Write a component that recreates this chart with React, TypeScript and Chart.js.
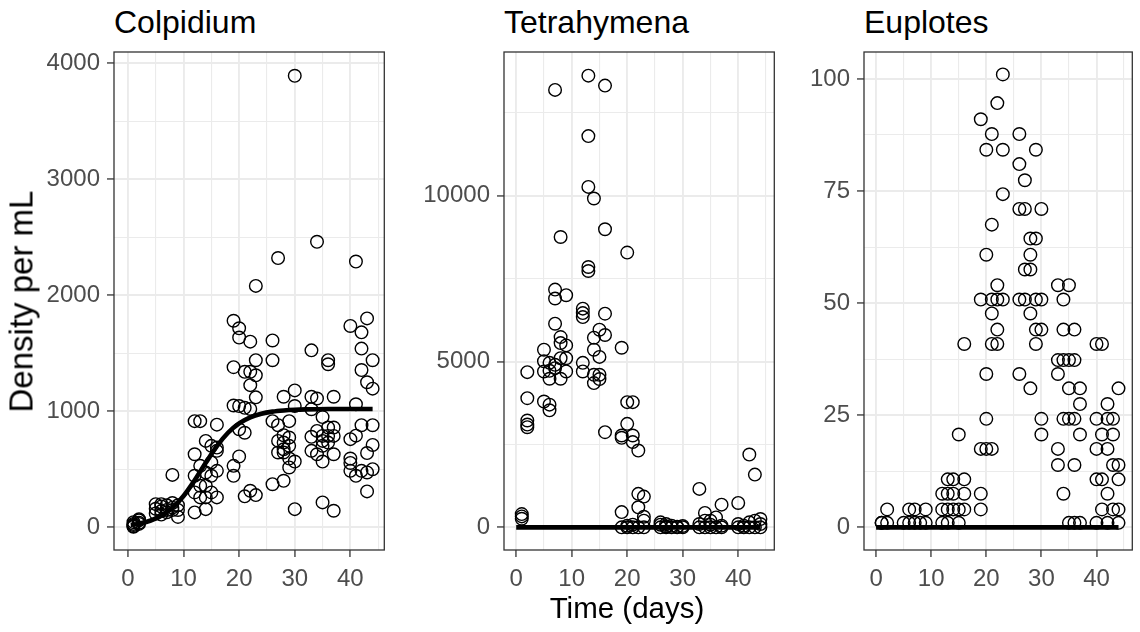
import React, { useEffect, useRef } from "react";
import { Chart, registerables } from "chart.js";

Chart.register(...registerables);

const FONT = '"Liberation Sans", Arial, Helvetica, sans-serif';

// ---------- data ----------
const colpSampleDays = [1, 2, 5, 6, 7, 8, 9, 12, 13, 14, 15, 16, 19, 20, 21, 22, 23, 26, 27, 28, 29, 30, 33, 34, 35, 36, 37, 40, 41, 42, 43, 44];
const colpDensity = [
  [10, 20, 30, 5, 45],
  [40, 60, 30, 70],
  [200, 160, 120],
  [200, 180, 140, 110],
  [190, 150, 130],
  [452, 210, 170, 150],
  [190, 150, 90],
  [915, 630, 444, 301, 129],
  [915, 530, 358, 258],
  [745, 473, 358, 258, 157],
  [702, 559, 444, 301],
  [885, 687, 659, 487, 258],
  [1780, 1380, 1050, 530, 444],
  [1715, 1635, 1045, 845, 611],
  [1340, 1030, 815, 267],
  [1600, 1340, 1225, 1020, 315],
  [2080, 1440, 1310, 1120, 278],
  [1610, 1440, 915, 372],
  [2320, 880, 745, 645],
  [1125, 794, 730, 673, 645, 401],
  [915, 774, 702, 593, 516],
  [3890, 1180, 1045, 567, 157],
  [1525, 1125, 1018, 780, 659],
  [2460, 1110, 831, 630],
  [950, 788, 745, 702, 567, 215],
  [1440, 1405, 860, 788, 730],
  [1125, 860, 788, 630, 143],
  [1735, 760, 593, 555, 487],
  [2290, 1060, 790, 444],
  [1680, 1540, 1355, 880, 487],
  [1800, 1250, 640, 473, 310],
  [1440, 1195, 880, 710, 501],
];
const colpFitDays = [0.5, 1, 2, 4, 6, 8, 10, 12, 14, 16, 18, 20, 22, 24, 26, 28, 30, 32, 36, 40, 44];
const colpFitDensity = [22, 24, 32, 57, 100, 169, 270, 405, 556, 700, 815, 896, 948, 979, 997, 1007, 1013, 1016, 1019, 1020, 1020];

const tetraSampleDays = [1, 2, 5, 6, 7, 8, 9, 12, 13, 14, 15, 16, 19, 20, 21, 22, 23, 26, 27, 28, 29, 30, 33, 34, 35, 36, 37, 40, 41, 42, 43, 44];
const tetraDensity = [
  [400, 330, 260],
  [4680, 3895, 3222, 3100, 3020],
  [5356, 5010, 4700, 3795],
  [4960, 4720, 4480, 3700, 3530],
  [13190, 7168, 6900, 6141, 4900, 4800],
  [8755, 5737, 5556, 5100, 4480],
  [7000, 5486, 5100, 4700],
  [6595, 6460, 6340, 4960, 4700],
  [13620, 11797, 10266, 7850, 7730],
  [9915, 5718, 5356, 4600, 4350],
  [5960, 5140, 4600, 4470],
  [13320, 8988, 6443, 5800, 2870],
  [5416, 2770, 2700, 460, 0],
  [8285, 3775, 3120, 50, 0],
  [3775, 2770, 2570, 80, 0],
  [2315, 1010, 605, 0],
  [927, 320, 200, 0],
  [150, 80, 0],
  [100, 30, 0],
  [50, 0],
  [20, 0],
  [40, 0],
  [1160, 100, 0],
  [435, 200, 0],
  [200, 80, 0],
  [300, 0],
  [685, 50, 0],
  [735, 100, 0],
  [50, 0],
  [2195, 150, 0],
  [1590, 200, 0],
  [250, 100, 0],
];
const tetraFitDays = [0, 44];
const tetraFitDensity = [0, 0];

const euploSampleDays = [1, 2, 5, 6, 7, 8, 9, 12, 13, 14, 15, 16, 19, 20, 21, 22, 23, 26, 27, 28, 29, 30, 33, 34, 35, 36, 37, 40, 41, 42, 43, 44];
const euploDensity = [
  [1, 1],
  [1, 4],
  [1],
  [1, 4],
  [1, 4],
  [1],
  [1, 4],
  [7.5, 4, 1],
  [10.7, 7.5, 4, 1],
  [10.7, 7.5, 4],
  [20.7, 4, 1],
  [40.9, 10.7, 7.5, 4],
  [91, 50.8, 17.5, 7.5, 4],
  [84.2, 60.8, 34.2, 24.2, 17.5],
  [87.7, 67.5, 50.8, 47.7, 40.9, 17.5],
  [94.6, 54, 50.8, 44.1, 40.9],
  [101, 84.2, 74.3, 50.8],
  [87.7, 81, 71, 50.8, 34.2],
  [77.4, 71, 57.5, 50.8],
  [64.4, 60.8, 57.5, 47.7, 31],
  [84.2, 64.4, 50.8, 44.1, 40.9],
  [71, 50.8, 44.1, 24.2, 20.7],
  [54, 37.3, 34.2, 17.5, 13.9],
  [50.8, 44.1, 37.3, 24.2, 7.5],
  [54, 37.3, 31, 24.2, 1],
  [44.1, 37.3, 24.2, 13.9, 1],
  [31, 27.5, 20.7, 1],
  [40.9, 24.2, 17.5, 10.7, 1],
  [40.9, 20.7, 10.7, 4],
  [27.5, 24.2, 17.5, 7.5, 1],
  [24.2, 20.7, 13.9, 4],
  [31, 13.9, 10.7, 4, 1],
];
const euploFitDays = [0, 44];
const euploFitDensity = [0, 0];

// ticks
const xMajorTicks = [0, 10, 20, 30, 40];
const xGridTicks = [0, 5, 10, 15, 20, 25, 30, 35, 40, 45];
const colpMajorTicks = [0, 1000, 2000, 3000, 4000];
const colpGridTicks = [0, 500, 1000, 1500, 2000, 2500, 3000, 3500, 4000];
const tetraMajorTicks = [0, 5000, 10000];
const tetraGridTicks = [0, 2500, 5000, 7500, 10000, 12500];
const euploMajorTicks = [0, 25, 50, 75, 100];
const euploGridTicks = [0, 12.5, 25, 37.5, 50, 62.5, 75, 87.5, 100];

const titles = ["Colpidium", "Tetrahymena", "Euplotes"];
const yAxisTitle = "Density per mL";
const xAxisTitle = "Time (days)";

// ---------- layout ----------
type PanelCfg = {
  title: string;
  left: number;
  width: number;
  yAxisWidth: number;
  padRight: number;
  xMin: number;
  xMax: number;
  yMin: number;
  yMax: number;
  days: number[];
  density: number[][];
  fitDays: number[];
  fitDensity: number[];
  yMajor: number[];
  yGrid: number[];
};

const CANVAS_TOP = 40;
const CANVAS_H = 592;

const panels: PanelCfg[] = [
  {
    title: titles[0], left: 0, width: 392, yAxisWidth: 114, padRight: 2,
    xMin: -2.5, xMax: 46.1, yMin: -195, yMax: 4095,
    days: colpSampleDays, density: colpDensity, fitDays: colpFitDays, fitDensity: colpFitDensity,
    yMajor: colpMajorTicks, yGrid: colpGridTicks,
  },
  {
    title: titles[1], left: 392, width: 390, yAxisWidth: 112, padRight: 2,
    xMin: -2.2, xMax: 46.5, yMin: -683, yMax: 14333,
    days: tetraSampleDays, density: tetraDensity, fitDays: tetraFitDays, fitDensity: tetraFitDensity,
    yMajor: tetraMajorTicks, yGrid: tetraGridTicks,
  },
  {
    title: titles[2], left: 782, width: 358, yAxisWidth: 82, padRight: 1,
    xMin: -2.2, xMax: 46.5, yMin: -5.05, yMax: 106,
    days: euploSampleDays, density: euploDensity, fitDays: euploFitDays, fitDensity: euploFitDensity,
    yMajor: euploMajorTicks, yGrid: euploGridTicks,
  },
];

const borderPlugin = {
  id: "panelBorder",
  afterDraw(chart: any) {
    const { ctx, chartArea } = chart;
    ctx.save();
    ctx.strokeStyle = "#333333";
    ctx.lineWidth = 1.3;
    ctx.strokeRect(chartArea.left, chartArea.top, chartArea.right - chartArea.left, chartArea.bottom - chartArea.top);
    ctx.restore();
  },
};

function Panel({ cfg }: { cfg: PanelCfg }) {
  const ref = useRef<HTMLCanvasElement>(null);
  useEffect(() => {
    const pts: { x: number; y: number }[] = [];
    cfg.days.forEach((d, i) => cfg.density[i].forEach((v) => pts.push({ x: d, y: v })));
    const fit = cfg.fitDays.map((d, i) => ({ x: d, y: cfg.fitDensity[i] }));
    const chart = new Chart(ref.current as HTMLCanvasElement, {
      type: "scatter",
      data: {
        datasets: [
          {
            data: fit,
            showLine: true,
            borderColor: "#000000",
            borderWidth: 4.6,
            pointRadius: 0,
            tension: 0.3,
            order: 0,
          } as any,
          {
            data: pts,
            pointRadius: 6.3,
            pointBorderWidth: 1.4,
            borderColor: "#000000",
            backgroundColor: "rgba(0,0,0,0)",
            pointBackgroundColor: "rgba(0,0,0,0)",
            pointBorderColor: "#000000",
            order: 1,
          } as any,
        ],
      },
      options: {
        responsive: false,
        animation: false,
        devicePixelRatio: 1,
        events: [],
        layout: { padding: { top: 12, right: cfg.padRight, left: 0, bottom: 0 } },
        plugins: { legend: { display: false }, tooltip: { enabled: false }, title: { display: false } },
        scales: {
          x: {
            type: "linear",
            min: cfg.xMin,
            max: cfg.xMax,
            afterBuildTicks: (s: any) => {
              s.ticks = xGridTicks.map((v) => ({ value: v }));
            },
            afterFit: (s: any) => {
              s.height = 82;
              s.paddingLeft = 0;
              s.paddingRight = 0;
            },
            ticks: {
              autoSkip: false,
              maxRotation: 0,
              color: "#4D4D4D",
              padding: 8,
              font: { family: FONT, size: 24 },
              callback: (v: any) => (xMajorTicks.includes(Number(v)) ? String(v) : ""),
            },
            grid: {
              color: "#EBEBEB",
              lineWidth: (c: any) => (xMajorTicks.includes(c.tick?.value) ? 1.9 : 1.1),
              tickColor: (c: any) => (xMajorTicks.includes(c.tick?.value) ? "#333333" : "rgba(0,0,0,0)"),
              tickLength: 7,
              tickWidth: 1.3,
            },
            border: { display: false },
          },
          y: {
            type: "linear",
            min: cfg.yMin,
            max: cfg.yMax,
            afterBuildTicks: (s: any) => {
              s.ticks = cfg.yGrid.map((v) => ({ value: v }));
            },
            afterFit: (s: any) => {
              s.width = cfg.yAxisWidth;
              s.paddingTop = 0;
              s.paddingBottom = 0;
            },
            ticks: {
              autoSkip: false,
              color: "#4D4D4D",
              padding: 7,
              font: { family: FONT, size: 24 },
              callback: (v: any) => (cfg.yMajor.includes(Number(v)) ? String(v) : ""),
            },
            grid: {
              color: "#EBEBEB",
              lineWidth: (c: any) => (cfg.yMajor.includes(c.tick?.value) ? 1.9 : 1.1),
              tickColor: (c: any) => (cfg.yMajor.includes(c.tick?.value) ? "#333333" : "rgba(0,0,0,0)"),
              tickLength: 7,
              tickWidth: 1.3,
            },
            border: { display: false },
          },
        },
      },
      plugins: [borderPlugin],
    } as any);
    return () => chart.destroy();
  }, []);
  return (
    <canvas
      ref={ref}
      width={cfg.width}
      height={CANVAS_H}
      style={{ position: "absolute", left: cfg.left, top: CANVAS_TOP, width: cfg.width, height: CANVAS_H }}
    />
  );
}

export default function App() {
  const plotLefts = panels.map((p) => p.left + p.yAxisWidth);
  return (
    <div
      style={{
        position: "absolute",
        left: 0,
        top: 0,
        width: 1140,
        height: 632,
        background: "#ffffff",
        overflow: "hidden",
        fontFamily: FONT,
      }}
    >
      {panels.map((p, i) => (
        <Panel key={i} cfg={p} />
      ))}
      {panels.map((p, i) => (
        <div
          key={"t" + i}
          style={{
            position: "absolute",
            left: plotLefts[i],
            top: 6,
            fontSize: 32,
            lineHeight: "32px",
            color: "#000",
            whiteSpace: "nowrap",
          }}
        >
          {p.title}
        </div>
      ))}
      <div
        style={{
          position: "absolute",
          left: 114,
          width: 1026,
          top: 593,
          fontSize: 29.5,
          lineHeight: "29.5px",
          textAlign: "center",
          color: "#000",
          whiteSpace: "nowrap",
        }}
      >
        {xAxisTitle}
      </div>
      <div
        style={{
          position: "absolute",
          left: 21 - 200,
          width: 400,
          top: 301 - 16.5,
          height: 33,
          fontSize: 33,
          lineHeight: "33px",
          textAlign: "center",
          color: "#000",
          whiteSpace: "nowrap",
          transform: "rotate(-90deg)",
        }}
      >
        {yAxisTitle}
      </div>
    </div>
  );
}
